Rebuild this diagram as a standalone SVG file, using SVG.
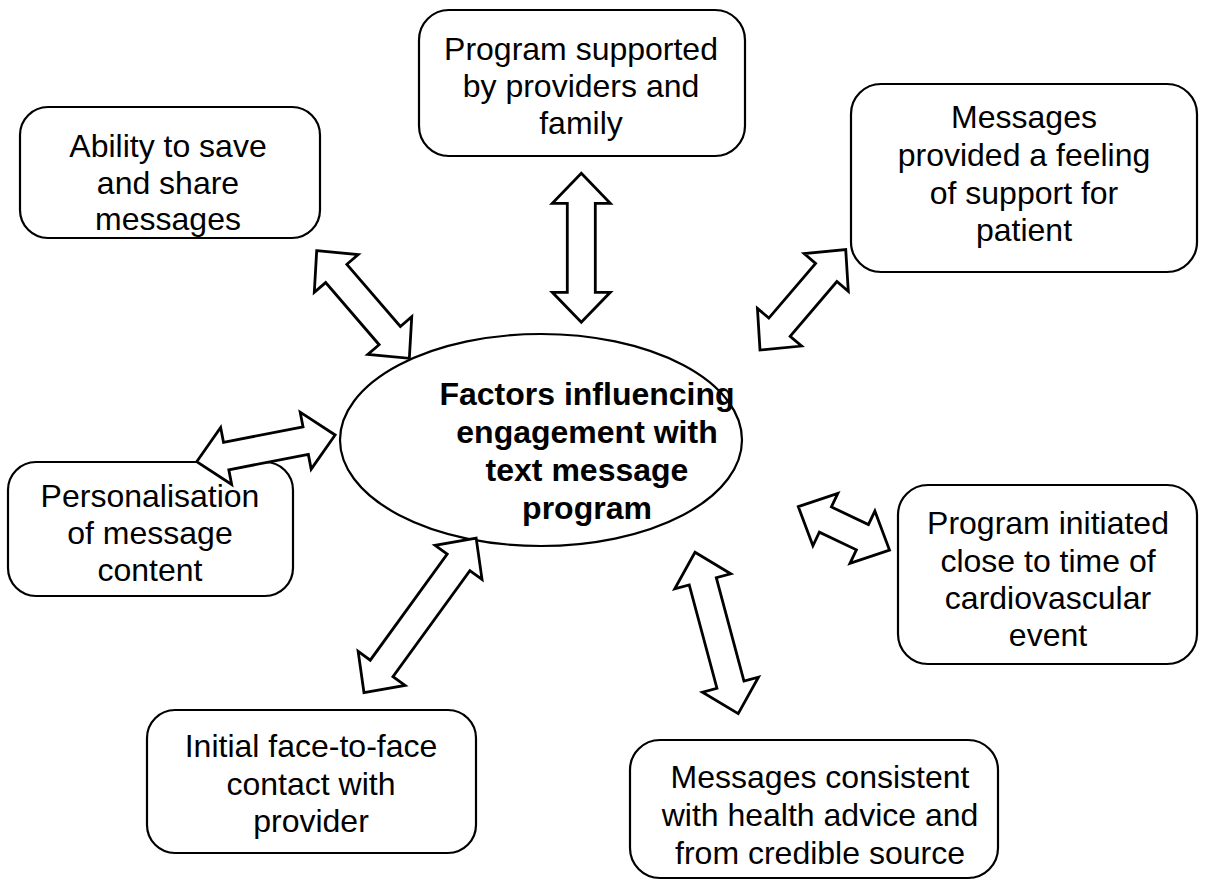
<svg xmlns="http://www.w3.org/2000/svg" width="1210" height="880" viewBox="0 0 1210 880">
<style>
.box{fill:#fff;stroke:#000;stroke-width:2.2}
.t{font-family:"Liberation Sans",Arial,sans-serif;font-size:32px;fill:#000;text-anchor:middle}
.b{font-weight:bold}
.arr{fill:#fff;stroke:#000;stroke-width:2.8;stroke-linejoin:miter}
</style>
<rect width="1210" height="880" fill="#fff"/>
<g id="center">
<ellipse class="box" cx="541" cy="440" rx="201" ry="106"/>
<text class="t b" x="587"><tspan x="587" y="405">Factors influencing</tspan><tspan x="587" y="443">engagement with</tspan><tspan x="587" y="481">text message</tspan><tspan x="587" y="519">program</tspan></text>
</g>
<g id="n-support">
<rect class="box" x="419" y="10" width="326" height="146" rx="30"/>
<text class="t"><tspan x="581" y="60">Program supported</tspan><tspan x="581" y="97">by providers and</tspan><tspan x="581" y="134">family</tspan></text>
</g>
<g id="n-save">
<rect class="box" x="20" y="107" width="300" height="131" rx="28"/>
<text class="t"><tspan x="168" y="157">Ability to save</tspan><tspan x="168" y="194">and share</tspan><tspan x="168" y="230">messages</tspan></text>
</g>
<g id="n-feeling">
<rect class="box" x="851" y="84" width="346" height="188" rx="30"/>
<text class="t"><tspan x="1024" y="128">Messages</tspan><tspan x="1024" y="166">provided a feeling</tspan><tspan x="1024" y="204">of support for</tspan><tspan x="1024" y="241">patient</tspan></text>
</g>
<g id="n-personal">
<rect class="box" x="8" y="462" width="285" height="134" rx="28"/>
<text class="t"><tspan x="150" y="507">Personalisation</tspan><tspan x="150" y="544">of message</tspan><tspan x="150" y="581">content</tspan></text>
</g>
<g id="n-initiated">
<rect class="box" x="898" y="485" width="299" height="179" rx="30"/>
<text class="t"><tspan x="1048" y="534">Program initiated</tspan><tspan x="1048" y="572">close to time of</tspan><tspan x="1048" y="609">cardiovascular</tspan><tspan x="1048" y="646">event</tspan></text>
</g>
<g id="n-face">
<rect class="box" x="147" y="710" width="329" height="143" rx="28"/>
<text class="t"><tspan x="311" y="757">Initial face-to-face</tspan><tspan x="311" y="795">contact with</tspan><tspan x="311" y="832">provider</tspan></text>
</g>
<g id="n-consistent">
<rect class="box" x="630" y="740" width="368" height="138" rx="30"/>
<text class="t"><tspan x="820" y="788">Messages consistent</tspan><tspan x="820" y="826">with health advice and</tspan><tspan x="820" y="864">from credible source</tspan></text>
</g>
<g id="connectors">
<path class="arr" transform="translate(316.7,250.7) rotate(49.28)" d="M0,0 L30,-29 L30,-14 L112,-14 L112,-29 L142,0 L112,29 L112,14 L30,14 L30,29 Z"/>
<path class="arr" transform="translate(581.3,173.3) rotate(90)" d="M0,0 L30,-29 L30,-14 L119,-14 L119,-29 L149,0 L119,29 L119,14 L30,14 L30,29 Z"/>
<path class="arr" transform="translate(760,350) rotate(-49.5)" d="M0,0 L30,-29 L30,-14 L102,-14 L102,-29 L132,0 L102,29 L102,14 L30,14 L30,29 Z"/>
<path class="arr" transform="translate(196.7,461.7) rotate(-10.93)" d="M0,0 L30,-29 L30,-14 L111,-14 L111,-29 L141,0 L111,29 L111,14 L30,14 L30,29 Z"/>
<path class="arr" transform="translate(364,692.7) rotate(-54.04)" d="M0,0 L30,-29 L30,-14 L161,-14 L161,-29 L191,0 L161,29 L161,14 L30,14 L30,29 Z"/>
<path class="arr" transform="translate(695,552.3) rotate(75)" d="M0,0 L30,-29 L30,-14 L137,-14 L137,-29 L167,0 L137,29 L137,14 L30,14 L30,29 Z"/>
<path class="arr" transform="translate(798.3,506.7) rotate(25.45)" d="M0,0 L30,-29 L30,-14 L71,-14 L71,-29 L101,0 L71,29 L71,14 L30,14 L30,29 Z"/>
</g>
</svg>
